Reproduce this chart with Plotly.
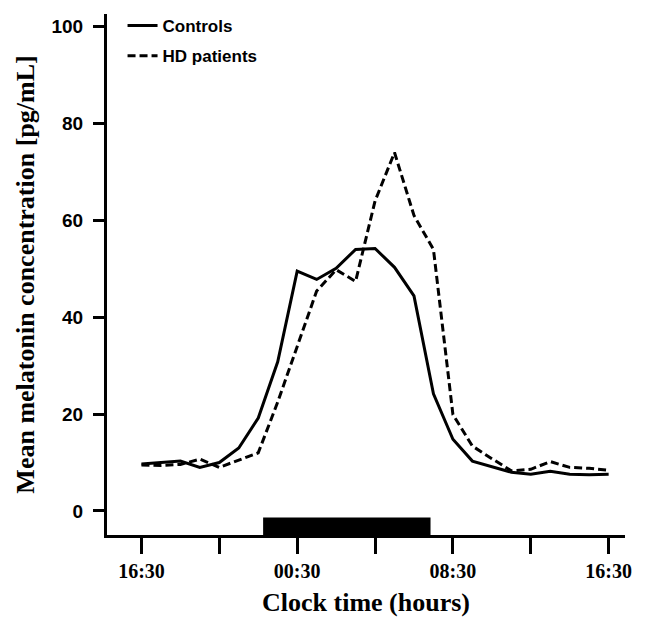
import plotly.graph_objects as go

# Hours elapsed since 16:30 (hourly samples over 24 h)
hours = list(range(25))

controls = [9.7, 10.0, 10.3, 9.0, 10.0, 13.0, 19.2, 30.8, 49.5, 47.8, 50.1, 54.0, 54.2,
            50.3, 44.4, 24.2, 14.8, 10.3, 9.2, 8.0, 7.6, 8.2, 7.6, 7.5, 7.6]
hd_patients = [9.5, 9.4, 9.6, 10.7, 9.0, 10.5, 12.0, 22.5, 34.0, 45.4, 49.8, 47.4, 64.0,
               74.0, 61.0, 54.0, 19.9, 13.4, 10.8, 8.3, 8.6, 10.2, 9.0, 8.8, 8.4]

tick_hours = [0, 4, 8, 12, 16, 20, 24]
tick_labels = ["16:30", "", "00:30", "", "08:30", "", "16:30"]
y_ticks = [0, 20, 40, 60, 80, 100]

# dark period (hours since 16:30), drawn as black bar under the zero line
dark_start, dark_end = 6.25, 14.85
bar_top = -1.35

x_range = [-1.77, 24.84]
y_range = [-4.96, 102.6]

fig = go.Figure()

fig.add_trace(go.Scatter(
    x=hours, y=controls,
    mode="lines",
    line=dict(color="black", width=3),
    name="Controls",
    legendgroup="a",
))

fig.add_trace(go.Scatter(
    x=hours, y=hd_patients,
    mode="lines",
    line=dict(color="black", width=3, dash="8px,4px"),
    name="HD patients",
    legendgroup="b",
))

fig.add_shape(
    type="rect", xref="x", yref="y",
    x0=dark_start, x1=dark_end, y0=y_range[0], y1=bar_top,
    fillcolor="black", line=dict(width=0),
)

# page body has an 8px margin, so the figure is 8px smaller each way
fig.update_layout(
    width=642,
    height=609,
    margin=dict(l=99, r=25, t=0, b=82),
    paper_bgcolor="white",
    plot_bgcolor="white",
    showlegend=True,
    legend=dict(
        x=0.03, y=1.012, xanchor="left", yanchor="top",
        font=dict(family="Liberation Sans, Arial", size=17, color="black", weight="bold"),
        bgcolor="rgba(0,0,0,0)",
        traceorder="grouped",
        tracegroupgap=5,
    ),
    xaxis=dict(
        range=x_range,
        tickmode="array",
        tickvals=tick_hours,
        ticktext=tick_labels,
        ticks="outside",
        ticklen=16,
        tickwidth=3,
        tickcolor="black",
        showline=True,
        linewidth=3,
        linecolor="black",
        showgrid=False,
        zeroline=False,
        tickfont=dict(family="Liberation Serif, Times New Roman", size=20, color="black", weight="bold"),
        title=dict(
            text="Clock time (hours)",
            font=dict(family="Liberation Serif, Times New Roman", size=26, color="black", weight="bold"),
            standoff=15,
        ),
    ),
    yaxis=dict(
        range=y_range,
        tickmode="array",
        tickvals=y_ticks,
        ticks="outside",
        ticklen=11,
        tickwidth=3,
        tickcolor="black",
        showline=True,
        linewidth=3,
        linecolor="black",
        showgrid=False,
        zeroline=False,
        ticklabelstandoff=6,
        tickfont=dict(family="Liberation Sans, Arial", size=19, color="black", weight="bold"),
        title=dict(
            text="Mean melatonin concentration [pg/mL]",
            font=dict(family="Liberation Serif, Times New Roman", size=26, color="black", weight="bold"),
            standoff=10,
        ),
    ),
)

fig.write_html("out.html")
